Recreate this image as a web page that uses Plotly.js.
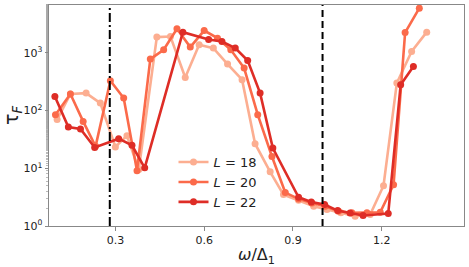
<!DOCTYPE html>
<html>
<head>
<meta charset="utf-8">
<script src="https://cdn.plot.ly/plotly-3.0.1.min.js"></script>
<style>html,body{margin:0;padding:0;background:#fff;}#chart{width:469px;height:267px;}</style>
</head>
<body>
<div id="chart"></div>
<script>
// L = 18
const x18 = [0.103,0.148,0.201,0.249,0.300,0.339,0.379,0.440,0.486,0.536,0.583,0.631,0.679,0.728,0.772,0.823,0.868,0.919,0.970,1.015,1.062,1.110,1.161,1.206,1.251,1.301,1.352];
const y18 = [70,194,201,135,23.5,36.8,9.5,1877,1922,375,1380,1210,640,343,26.7,8.7,3.5,2.8,2.2,1.93,1.69,1.48,1.58,5.0,300,1057,2290];
// L = 20
const x20 = [0.0975,0.148,0.191,0.233,0.283,0.328,0.373,0.418,0.463,0.508,0.553,0.600,0.645,0.690,0.735,0.781,0.829,0.874,0.919,0.964,1.009,1.054,1.099,1.150,1.195,1.240,1.279,1.327];
const y20 = [85,194,65,24,329,165,9.1,781,1132,2610,1260,2440,1800,1130,546,85,16,3.8,2.95,2.5,2.2,1.8,1.69,1.69,1.73,5.2,2250,5960];
// L = 22
const x22 = [0.0955,0.141,0.182,0.230,0.311,0.356,0.399,0.528,0.615,0.660,0.705,0.747,0.789,0.832,0.919,0.962,1.007,1.051,1.093,1.137,1.222,1.264,1.307];
const y22 = [176,52,48,23,32.6,25,10.2,2290,1700,1575,1210,739,201,22.5,3.15,2.6,2.35,1.85,1.68,1.52,1.64,280,582];

const seriesNames = ["<i>L</i> = 18","<i>L</i> = 20","<i>L</i> = 22"];
const seriesColors = ["#fcae91","#fb6a4a","#de2d26"];
const xTickVals = [0.3,0.6,0.9,1.2];
const xTickText = ["0.3","0.6","0.9","1.2"];
const yTickVals = [1,10,100,1000];
const yTickText = ["10<sup>0</sup>","10<sup>1</sup>","10<sup>2</sup>","10<sup>3</sup>"];
const vDashDot = 0.281;
const vDash = 1.0;

const xs = [x18,x20,x22], ys = [y18,y20,y22];
const traces = xs.map((x,i)=>({
  x: x, y: ys[i], name: seriesNames[i], type:'scatter', mode:'lines+markers',
  line:{color:seriesColors[i], width:2.6},
  marker:{color:seriesColors[i], size:7}
}));

const font = "DejaVu Sans, sans-serif";
const layout = {
  width:469, height:267,
  margin:{l:48.5, r:5, t:5, b:40.5},
  paper_bgcolor:'#fff', plot_bgcolor:'#fff',
  showlegend:true,
  legend:{x:0.30, y:0.357, xanchor:'left', yanchor:'top', bgcolor:'rgba(255,255,255,0)',
    font:{family:font, size:13, color:'#222'}, tracegroupgap:0, itemwidth:30},
  xaxis:{range:[0.0756,1.478], tickvals:xTickVals, ticktext:xTickText,
    showgrid:false, zeroline:false, showline:true, mirror:true, linecolor:'#888', linewidth:1,
    ticks:'outside', ticklen:3.5, tickcolor:'#888',
    tickfont:{family:font, size:11, color:'#222'},
    title:{text:'<i>ω</i>/Δ<sub>1</sub>', font:{family:font, size:16, color:'#222'}, standoff:3}},
  yaxis:{type:'log', range:[0,3.83], tickvals:yTickVals, ticktext:yTickText,
    showgrid:false, zeroline:false, showline:true, mirror:true, linecolor:'#888', linewidth:1,
    ticks:'outside', ticklen:3.5, tickcolor:'#888',
    minor:{ticks:'outside', ticklen:2, tickcolor:'#aaa', tickwidth:0.8, showgrid:false},
    tickfont:{family:font, size:11, color:'#222'},
    title:{text:'τ<sub><i>F</i></sub>', font:{family:font, size:19, color:'#222'}, standoff:2}},
  shapes:[
    {type:'line', xref:'x', yref:'paper', x0:vDashDot, x1:vDashDot, y0:0, y1:1, line:{color:'#000', width:2, dash:'9px,3px,2px,3px'}, layer:'above'},
    {type:'line', xref:'x', yref:'paper', x0:vDash, x1:vDash, y0:0, y1:1, line:{color:'#000', width:2, dash:'7px,4px'}, layer:'above'}
  ]
};
Plotly.newPlot('chart', traces, layout, {displayModeBar:false, staticPlot:true});
</script>
</body>
</html>
